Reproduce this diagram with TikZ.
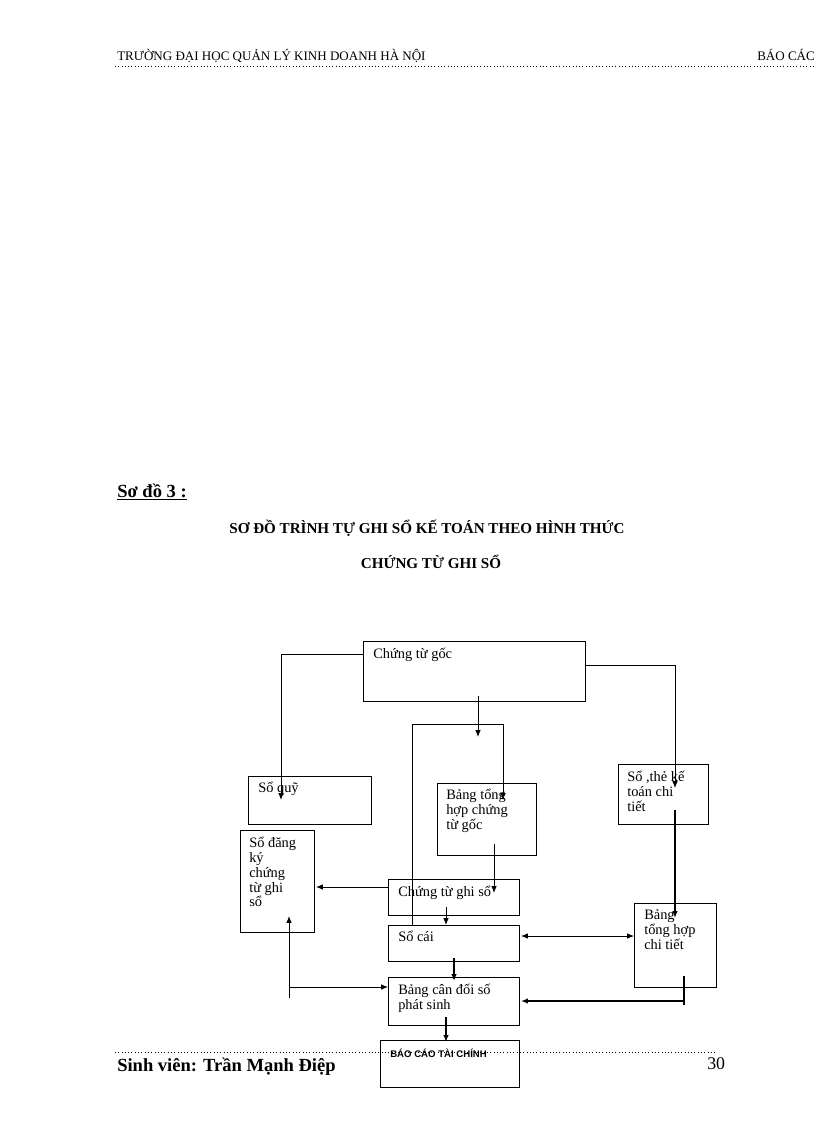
\documentclass[tikz,border=0pt]{standalone}
\usepackage{fontspec}
\setmainfont{Liberation Serif}
\newfontfamily\sansf{Liberation Sans}
\begin{document}
\begin{tikzpicture}[x=0.729pt,y=-0.729pt,
 bx/.style={draw,semithick},
 tx/.style={anchor=north west,inner sep=0pt,font=\fontsize{10.5}{11}\selectfont,align=left},
 ar/.style={-{Latex[length=5pt,width=4pt]},semithick},
 tar/.style={-{Latex[length=5pt,width=4pt]},very thick}]
\usetikzlibrary{arrows.meta}
\useasboundingbox (0,0) rectangle (816,1123);
% header/footer
\node[anchor=base west,inner sep=0pt,font=\fontsize{9.5}{10}\selectfont] (h1) at (117,61) {TRƯỜNG  ĐẠI HỌC QUẢN LÝ KINH DOANH HÀ NỘI};
\node[anchor=base west,inner sep=0pt,font=\fontsize{9.5}{10}\selectfont] (h2) at (757,61) {BÁO CÁC};
\draw[dotted] (115,66) -- (816,66);
\draw[dotted] (115,1052) -- (715,1052);
\node[anchor=base west,inner sep=0pt,font=\bfseries\fontsize{13.5}{14}\selectfont] (f1) at (117,1071) {Sinh viên: Trần Mạnh Điệp};
\node[anchor=base west,inner sep=0pt,font=\fontsize{13}{14}\selectfont] (f2) at (707,1069) {30};
\node[anchor=base west,inner sep=0pt,font=\bfseries\fontsize{13.5}{14}\selectfont] (t0) at (117,497) {\underline{Sơ đồ 3 :}};
\node[anchor=base,inner sep=0pt,font=\bfseries\fontsize{11}{12}\selectfont] (t1) at (427,533) {SƠ ĐỒ TRÌNH  TỰ GHI SỔ KẾ TOÁN  THEO  HÌNH THỨC};
\node[anchor=base,inner sep=0pt,font=\bfseries\fontsize{11}{12}\selectfont] (t2) at (431,568) {CHỨNG TỪ GHI SỔ};
% boxes
\draw[bx] (363,641) rectangle (585,701); \node[tx] (ctg) at (373,648) {Chứng từ  gốc};
\draw[bx] (248,776) rectangle (371,824); \node[tx] (sq) at (258,782) {Sổ quỹ};
\draw[bx] (437,783) rectangle (536,855); \node[tx] (bth) at (446,789) {Bảng tổng\\hợp chứng\\từ gốc};
\draw[bx] (618,764) rectangle (708,824); \node[tx] (st) at (627,771) {Sổ ,thẻ kế\\toán chi\\tiết};
\draw[bx] (240,830) rectangle (314,932); \node[tx,font=\fontsize{10.5}{10.8}\selectfont] (sdk) at (249,837) {Sổ đăng\\ký\\chứng\\từ ghi\\sổ};
\draw[bx] (388,879) rectangle (519,915); \node[tx] (ctgs) at (398,886) {Chứng từ ghi sổ};
\draw[bx] (388,925) rectangle (519,961); \node[tx] (sc) at (398,931) {Sổ cái};
\draw[bx] (634,903) rectangle (716,987); \node[tx] (thct) at (644,909) {Bảng\\tổng hợp\\chi tiết};
\draw[bx] (388,977) rectangle (519,1025); \node[tx] (bcd) at (398,984) {Bảng cân đối số\\phát sinh};
\draw[bx] (380,1040) rectangle (519,1087); \node[tx,font=\sansf\bfseries\fontsize{7}{7}\selectfont] (bctc) at (390,1049) {BÁO CÁO TÀI CHÍNH};
% connectors
\draw[ar] (363,654) -- (281,654) -- (281,800);
\draw[ar] (478,696) -- (478,737);
\draw[ar] (412,925) -- (412,724) -- (503,724) -- (503,800);
\draw[ar] (585,665) -- (675,665) -- (675,788);
\draw[tar] (675,810) -- (675,918);
\draw[ar] (494,844) -- (494,893);
\draw[ar] (388,887) -- (316,887);
\draw[ar] (446,907) -- (446,925);
\draw[{Latex[length=5pt,width=4pt]}-{Latex[length=5pt,width=4pt]},semithick] (521,936) -- (634,936);
\draw[tar] (454,958) -- (454,981);
\draw[ar] (289,998) -- (289,916);
\draw[ar] (289,987) -- (388,987);
\draw[very thick] (684,976) -- (684,1005);
\draw[tar] (684,1001) -- (521,1001);
\draw[tar] (446,1017) -- (446,1042);
\end{tikzpicture}
\end{document}
